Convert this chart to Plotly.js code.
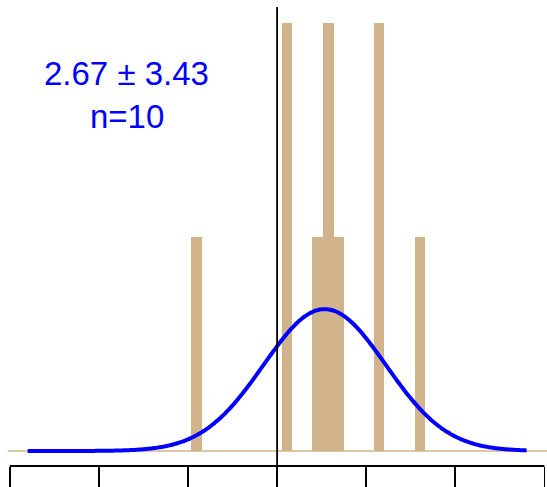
<!DOCTYPE html>
<html>
<head>
<meta charset="utf-8">
<script src="https://cdn.plot.ly/plotly-3.0.1.min.js"></script>
<style>html,body{margin:0;padding:0;background:#fff;}#chart{width:547px;height:487px;}</style>
</head>
<body>
<div id="chart"></div>
<script>
// Histogram bars (value centres and counts)
const barCenters = [-4.52, 0.56, 2.28, 2.87, 3.46, 5.72, 8.02];
const barCounts  = [1, 2, 1, 2, 1, 2, 1];
const barWidth = 0.6;

// Fitted normal summary shown on the chart
const meanVal = 2.67;
const sdVal = 3.43;
const nObs = 10;
const binWidth = 0.57;
const curveFrom = -14;
const curveTo = 14;

// Axis ticks
const tickValues = [-15, -10, -5, 0, 5, 10, 15];

const tan = '#D2B48C';
const blue = '#0000FF';

// normal density curve for the fitted mean/sd
const curveX = [], curveY = [];
const steps = 280;
for (let i = 0; i <= steps; i++) {
  const x = curveFrom + (curveTo - curveFrom) * i / steps;
  const d = Math.exp(-0.5 * Math.pow((x - meanVal) / sdVal, 2)) / (sdVal * Math.sqrt(2 * Math.PI));
  curveX.push(x);
  curveY.push(d * nObs * binWidth);
}

const xRange = [-15.55, 15.146];
const yRange = [-0.0701, 2.1075];

const traces = [
  {
    type: 'bar',
    x: barCenters,
    y: barCounts,
    width: barCenters.map(() => barWidth),
    marker: {color: tan, line: {width: 0}},
    hoverinfo: 'skip'
  },
  {
    type: 'scatter',
    mode: 'lines',
    x: curveX,
    y: curveY,
    line: {color: blue, width: 4, shape: 'spline'},
    hoverinfo: 'skip'
  }
];

const layout = {
  width: 547,
  height: 487,
  margin: {l: 0, r: 0, t: 0, b: 21, pad: 0},
  paper_bgcolor: '#ffffff',
  plot_bgcolor: '#ffffff',
  showlegend: false,
  bargap: 0,
  xaxis: {
    range: xRange,
    showgrid: false,
    zeroline: false,
    showline: false,
    ticks: 'outside',
    tickmode: 'array',
    tickvals: tickValues,
    ticklen: 30,
    tickwidth: 1.8,
    tickcolor: '#000000',
    showticklabels: false,
    fixedrange: true
  },
  yaxis: {
    range: yRange,
    visible: false,
    showgrid: false,
    zeroline: false,
    fixedrange: true
  },
  shapes: [
    {type: 'line', layer: 'below', xref: 'x', yref: 'y', x0: -15.12, x1: 15.146, y0: 0, y1: 0,
     line: {color: tan, width: 1.5}},
    {type: 'line', layer: 'above', xref: 'x', yref: 'y', x0: 0, x1: 0, y0: yRange[0], y1: 2.075,
     line: {color: '#000000', width: 1.8}},
    {type: 'line', layer: 'above', xref: 'x', yref: 'paper', x0: tickValues[0], x1: tickValues[tickValues.length - 1], y0: 0, y1: 0,
     line: {color: '#000000', width: 1.8}}
  ],
  annotations: [
    {xref: 'x', yref: 'y', x: -8.45, y: 1.766, text: meanVal.toFixed(2) + ' \u00B1 ' + sdVal.toFixed(2),
     showarrow: false, xanchor: 'center', yanchor: 'middle',
     font: {family: 'Liberation Sans, Arial, sans-serif', size: 33, color: blue}},
    {xref: 'x', yref: 'y', x: -8.4, y: 1.563, text: 'n=' + nObs,
     showarrow: false, xanchor: 'center', yanchor: 'middle',
     font: {family: 'Liberation Sans, Arial, sans-serif', size: 33, color: blue}}
  ]
};

Plotly.newPlot('chart', traces, layout, {staticPlot: true, displayModeBar: false});
</script>
</body>
</html>
